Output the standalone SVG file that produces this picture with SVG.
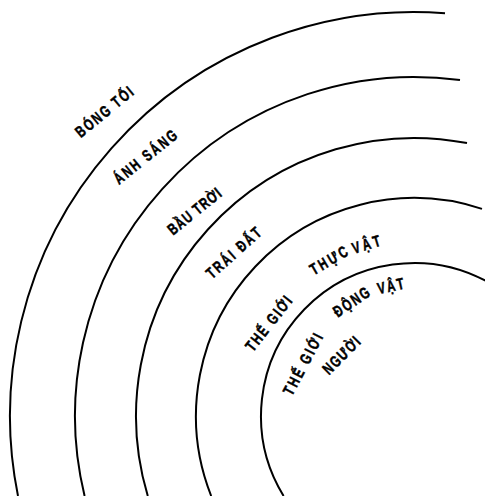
<svg xmlns="http://www.w3.org/2000/svg" width="485" height="496" viewBox="0 0 485 496">
<style>
.arc{fill:none;stroke:#000;stroke-width:2}
.lbl{font-family:"Liberation Sans","DejaVu Sans",Arial,sans-serif;font-weight:bold;font-size:16px;fill:#000;stroke:#000;stroke-width:0.5;text-anchor:middle}
</style>
<rect width="485" height="496" fill="#fff"/>
<g id="bong-toi">
<path class="arc" d="M18,496 A404,404 0 0 1 445,13.2"/>
<text class="lbl" transform="translate(104,111.5) rotate(-39.4) scale(0.72,1)" y="6" textLength="97" lengthAdjust="spacing">BÓNG TỐI</text>
</g>
<g id="anh-sang">
<path class="arc" d="M84.6,496 A339,339 0 0 1 460,80.1"/>
<text class="lbl" transform="translate(145,156.5) rotate(-38.7) scale(0.72,1)" y="6" textLength="106" lengthAdjust="spacing">ÁNH SÁNG</text>
</g>
<g id="bau-troi">
<path class="arc" d="M147.8,496 A278,278 0 0 1 467,143.1"/>
<text class="lbl" transform="translate(194,211) rotate(-39) scale(0.72,1)" y="6" textLength="89" lengthAdjust="spacing">BẦU TRỜI</text>
</g>
<g id="trai-dat">
<path class="arc" d="M211.2,496 A218,218 0 0 1 482,208.9"/>
<text class="lbl" transform="translate(233.3,252.5) rotate(-41.8) scale(0.72,1)" y="6" textLength="94" lengthAdjust="spacing">TRÁI ĐẤT</text>
</g>
<g id="the-gioi-thuc-vat">
<path class="arc" d="M283.6,496 A153,153 0 0 1 490,283.2"/>
<text class="lbl" transform="translate(268.3,323.3) rotate(-51.8) scale(0.72,1)" y="6" textLength="90" lengthAdjust="spacing">THẾ GIỚI</text>
<text class="lbl" transform="translate(328.5,260) rotate(-30) scale(0.72,1)" y="6" textLength="57" lengthAdjust="spacing">THỰC</text>
<text class="lbl" transform="translate(366,244) rotate(-17) scale(0.72,1)" y="6" textLength="40" lengthAdjust="spacing">VẬT</text>
</g>
<g id="the-gioi-dong-vat">
<text class="lbl" transform="translate(302.5,364) rotate(-62) scale(0.72,1)" y="6" textLength="93" lengthAdjust="spacing">THẾ GIỚI</text>
<text class="lbl" transform="translate(351,301.5) rotate(-34) scale(0.72,1)" y="6" textLength="56" lengthAdjust="spacing">ĐỘNG</text>
<text class="lbl" transform="translate(390.5,285.5) rotate(-12.5) scale(0.72,1)" y="6" textLength="37.5" lengthAdjust="spacing">VẬT</text>
</g>
<g id="nguoi">
<text class="lbl" transform="translate(341,355) rotate(-44.8) scale(0.72,1)" y="6" textLength="64" lengthAdjust="spacing">NGƯỜI</text>
</g>
</svg>
